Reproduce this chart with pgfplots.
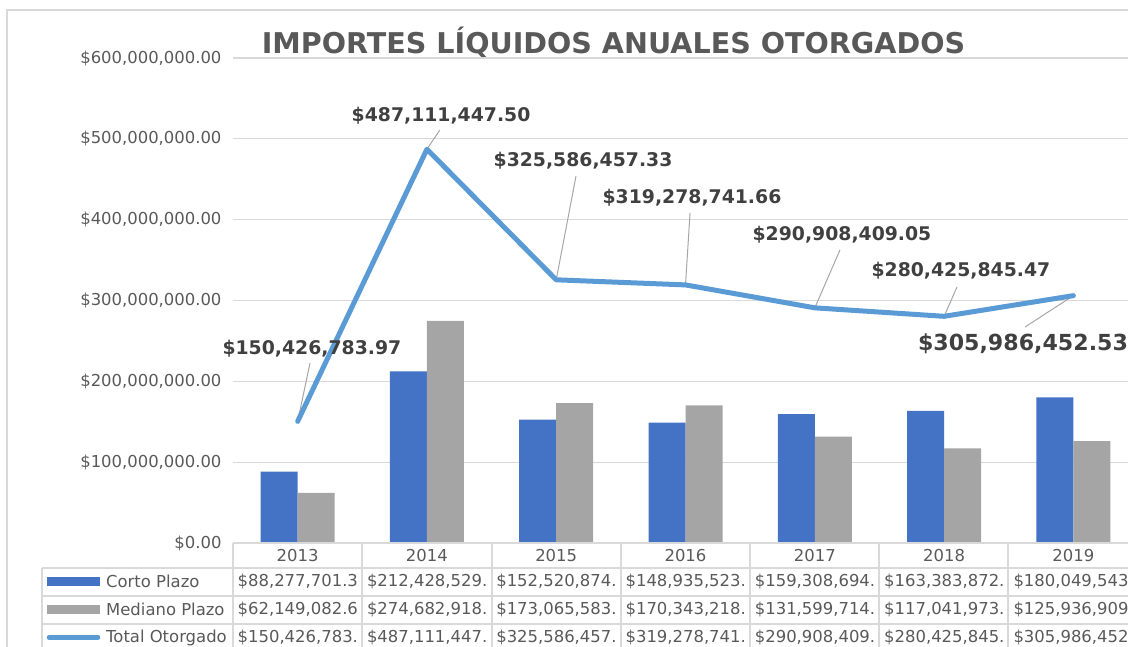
\documentclass[border=0pt]{standalone}
\usepackage{fontspec}
\setmainfont{DejaVu Sans}
\usepackage{pgfplots}
\pgfplotsset{compat=1.18}
\definecolor{cblue}{HTML}{4472C4}
\definecolor{cgray}{HTML}{A5A5A5}
\definecolor{cline}{HTML}{5B9BD5}
\definecolor{txt}{HTML}{595959}
\definecolor{lbl}{HTML}{404040}
\definecolor{grd}{HTML}{D9D9D9}
\definecolor{ldr}{HTML}{A6A6A6}
\begin{document}
\begin{tikzpicture}[x=1bp,y=1bp]
\useasboundingbox (0,0) rectangle (1128,647);
\clip (0,0) rectangle (1128,647);
% chart border
\draw[grd, line width=1.5bp] (7,-10) -- (7,637) -- (1140,637);
\node[font=\fontsize{28.7}{30}\selectfont\bfseries, text=txt] at (613.5,605) {IMPORTES LÍQUIDOS ANUALES OTORGADOS};
\begin{axis}[at={(233bp,104bp)}, anchor=south west, scale only axis,
  width=905bp, height=485bp, xmin=-0.5, xmax=6.5, ymin=0, ymax=600,
  axis line style={draw=none}, xtick=\empty,
  ytick={0,100,200,300,400,500,600},
  yticklabels={{\$0.00},{\$100,000,000.00},{\$200,000,000.00},{\$300,000,000.00},{\$400,000,000.00},{\$500,000,000.00},{\$600,000,000.00}},
  ymajorgrids, grid style={grd, line width=1.2bp}, major tick length=0pt,
  yticklabel style={font=\fontsize{16.5}{18}\selectfont, text=txt, xshift=-8bp},
  clip=false]
\addplot[ybar, bar width=37bp, bar shift=-18.5bp, fill=cblue, draw=none] coordinates {
 (0,88.2777013) (1,212.428529) (2,152.520874) (3,148.935523) (4,159.308694) (5,163.383872) (6,180.049543)};
\addplot[ybar, bar width=37bp, bar shift=18.5bp, fill=cgray, draw=none] coordinates {
 (0,62.1490826) (1,274.682918) (2,173.065583) (3,170.343218) (4,131.599714) (5,117.041973) (6,125.936909)};
% leaders
\draw[ldr, line width=1bp] (axis cs:0.096,222.7) -- (axis cs:0,150.43);
\draw[ldr, line width=1bp] (axis cs:1.10,510.9) -- (axis cs:1,487.11);
\draw[ldr, line width=1bp] (axis cs:2.153,454.0) -- (axis cs:2,325.59);
\draw[ldr, line width=1bp] (axis cs:3.035,408.2) -- (axis cs:3,319.28);
\draw[ldr, line width=1bp] (axis cs:4.195,362.5) -- (axis cs:4,290.91);
\draw[ldr, line width=1bp] (axis cs:5.10,316.7) -- (axis cs:5,280.43);
\draw[ldr, line width=1bp] (axis cs:5.626,267.2) -- (axis cs:6,305.99);
\addplot[cline, line width=5bp, line join=round, line cap=round, mark=none] coordinates {
 (0,150.42678397) (1,487.1114475) (2,325.58645733) (3,319.27874166) (4,290.90840905) (5,280.42584547) (6,305.98645253)};
\begin{scope}[every node/.style={font=\fontsize{18.9}{20}\selectfont\bfseries, text=lbl}]
\node at (axis cs:0.11,240.0) {\$150,426,783.97};
\node at (axis cs:1.109,528.2) {\$487,111,447.50};
\node at (axis cs:2.207,472.6) {\$325,586,457.33};
\node at (axis cs:3.05,426.8) {\$319,278,741.66};
\node at (axis cs:4.21,381.0) {\$290,908,409.05};
\node at (axis cs:5.13,336.5) {\$280,425,845.47};
\end{scope}
\node[font=\fontsize{22.2}{24}\selectfont\bfseries, text=lbl] at (axis cs:5.61,246.2) {\$305,986,452.53};
\end{axis}
% data table
\begin{scope}[grd, line width=1.5bp]
\draw (233,104) -- (1140,104);
\draw (42,79) -- (1140,79);
\draw (42,51) -- (1140,51);
\draw (42,23) -- (1140,23);
\draw (42,79) -- (42,-10);
\foreach \x in {233,362,492,621,750,879,1008,1137} {\draw (\x,104) -- (\x,-10);}
\end{scope}
\fill[cblue] (47,61) rectangle (100,70);
\fill[cgray] (47,33) rectangle (100,42);
\draw[cline, line width=4.5bp, line cap=round] (49,9.5) -- (98,9.5);
\begin{scope}[every node/.style={font=\fontsize{16.5}{18}\selectfont, text=txt, inner sep=0pt}]
\node[anchor=west] at (106,65.5) {Corto Plazo};
\node[anchor=west] at (106,37.5) {Mediano Plazo};
\node[anchor=west] at (106,9.5) {Total Otorgado};
\foreach \yr [count=\i from 0] in {2013,2014,2015,2016,2017,2018,2019} {
  \node at (297.6+129.3*\i,91.5) {\yr};
}
\foreach \v [count=\i from 0] in {{\$88,277,701.3},{\$212,428,529.},{\$152,520,874.},{\$148,935,523.},{\$159,308,694.},{\$163,383,872.},{\$180,049,543}} {
  \node[anchor=west] at (237.5+129.3*\i,65.5) {\v};
}
\foreach \v [count=\i from 0] in {{\$62,149,082.6},{\$274,682,918.},{\$173,065,583.},{\$170,343,218.},{\$131,599,714.},{\$117,041,973.},{\$125,936,909}} {
  \node[anchor=west] at (237.5+129.3*\i,37.5) {\v};
}
\foreach \v [count=\i from 0] in {{\$150,426,783.},{\$487,111,447.},{\$325,586,457.},{\$319,278,741.},{\$290,908,409.},{\$280,425,845.},{\$305,986,452}} {
  \node[anchor=west] at (237.5+129.3*\i,9.5) {\v};
}
\end{scope}
\end{tikzpicture}
\end{document}
